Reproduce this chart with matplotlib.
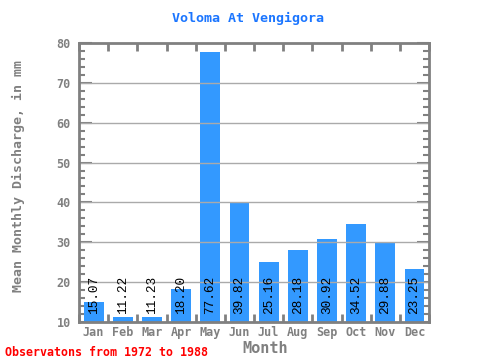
import numpy as np
import matplotlib.pyplot as plt
from matplotlib.ticker import MultipleLocator

months = ['Jan', 'Feb', 'Mar', 'Apr', 'May', 'Jun', 'Jul', 'Aug', 'Sep', 'Oct', 'Nov', 'Dec']
discharge = [15.07, 11.22, 11.23, 18.20, 77.62, 39.82, 25.16, 28.18, 30.92, 34.52, 29.88, 23.25]
labels = ['15.07', '11.22', '11.23', '18.20', '77.62', '39.82', '25.16', '28.18', '30.92', '34.52', '29.88', '23.25']
y_min, y_max = 10, 80

grey = '#808080'
mono = 'DejaVu Sans Mono'

fig = plt.figure(figsize=(4.8, 3.6), dpi=100)
ax = fig.add_axes([0.1646, 0.1056, 0.7292, 0.775])

x = np.arange(1, len(months) + 1)
ax.bar(x, np.array(discharge) - y_min, bottom=y_min, width=0.68, color='#3399FF', zorder=2)

for xi, lab in zip(x, labels):
    ax.text(xi, 12.1, lab, rotation=90, ha='center', va='bottom',
            fontsize=9.2, family='Liberation Mono', color='black', zorder=4)

ax.set_xlim(0.5, 12.5)
ax.set_ylim(y_min, y_max)

# horizontal grid drawn over the bars
for yv in range(20, 80, 10):
    ax.axhline(yv, color='#aaaaaa', lw=1, zorder=3)

ax.set_xticks(x)
ax.set_xticklabels(months)
ax.tick_params(axis='x', which='major', length=0, pad=3, labelsize=8.5, labelcolor=grey)
ax.set_xticks(np.arange(0.5, 13, 1), minor=True)
ax.tick_params(axis='x', which='minor', direction='in', length=6, width=2,
               color=grey, top=True, bottom=True)

ax.yaxis.set_major_locator(MultipleLocator(10))
ax.yaxis.set_minor_locator(MultipleLocator(2))
ax.tick_params(axis='y', which='major', direction='in', length=9, width=1.5,
               color=grey, left=True, right=True, labelsize=8.5, labelcolor=grey, pad=6)
ax.tick_params(axis='y', which='minor', direction='in', length=4, width=1.5,
               color=grey, left=True, right=True)

for lab in ax.get_xticklabels() + ax.get_yticklabels():
    lab.set_family(mono)
    lab.set_fontweight('bold')

for sp in ax.spines.values():
    sp.set_color(grey)
    sp.set_linewidth(2)
    sp.set_zorder(5)

fig.text(0.517, 0.95, 'Voloma At Vengigora', ha='center', va='center',
         fontsize=9.6, fontweight='bold', family=mono, color='#1a75ff')
fig.text(0.038, 0.51, 'Mean Monthly Discharge, in mm', rotation=90, ha='center', va='center',
         fontsize=9.5, fontweight='bold', family=mono, color=grey)
fig.text(0.552, 0.032, 'Month', ha='center', va='center',
         fontsize=11, fontweight='bold', family=mono, color=grey)
fig.text(0.01, 0.022, 'Observatons from 1972 to 1988', ha='left', va='center',
         fontsize=8.4, fontweight='bold', family=mono, color='red')

fig.savefig('out.png', dpi=100)
